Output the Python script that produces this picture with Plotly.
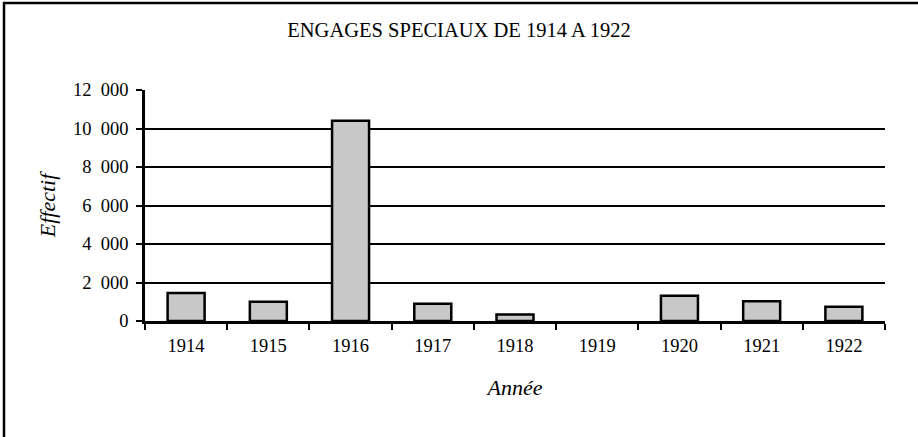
import plotly.graph_objects as go

years = ["1914", "1915", "1916", "1917", "1918", "1919", "1920", "1921", "1922"]
effectif = [1450, 1000, 10400, 900, 340, None, 1310, 1020, 740]
y_ticks = [0, 2000, 4000, 6000, 8000, 10000, 12000]
y_tick_labels = ["0", "2\u2002000", "4\u2002000", "6\u2002000", "8\u2002000", "10\u2002000", "12\u2002000"]

FONT = "Liberation Serif"

L, R, T, B = 145, 33, 90, 116
W, H = 918, 437
pw, ph = W - L - R, H - T - B

fig = go.Figure(go.Bar(
    x=years, y=effectif,
    marker=dict(color="#c8c8c8", line=dict(color="black", width=2.5)),
    width=0.45,
))

fig.update_layout(
    width=W, height=H,
    margin=dict(l=L, r=R, t=T, b=B),
    paper_bgcolor="white", plot_bgcolor="white",
    font=dict(family=FONT, size=18.5, color="black"),
    showlegend=False,
    title=dict(text="ENGAGES SPECIAUX DE 1914 A 1922", x=0.5, xanchor="center",
               y=1 - 30 / H, yanchor="middle", font=dict(family=FONT, size=20.5)),
    xaxis=dict(
        type="category", tickson="boundaries", ticks="outside", ticklen=6,
        tickwidth=2, tickcolor="black", showline=True, linecolor="black",
        linewidth=2.5, showgrid=False, zeroline=False,
        tickfont=dict(family=FONT, size=18.5), ticklabelstandoff=6,
        title=dict(text="<i>Année</i>", font=dict(family=FONT, size=22), standoff=25),
    ),
    yaxis=dict(
        range=[0, 12000], tickvals=y_ticks, ticktext=y_tick_labels,
        ticks="outside", ticklen=6, tickwidth=2, tickcolor="black",
        showline=True, linecolor="black", linewidth=2.5,
        showgrid=True, gridcolor="black", gridwidth=2, zeroline=False,
        tickfont=dict(family=FONT, size=18.5), ticklabelstandoff=4,
        title=dict(text="<i>Effectif</i>", font=dict(family=FONT, size=22), standoff=12),
    ),
)

fig.add_shape(type="rect", xref="paper", yref="paper",
              x0=(4 - L) / pw, x1=(W + 10 - L) / pw,
              y0=-(H + 10 - (T + ph)) / ph, y1=1 + (T - 3) / ph,
              line=dict(color="black", width=2.5), layer="below")

fig.write_html("out.html", config={"displayModeBar": False},
               post_script="document.body.style.margin='0';document.body.style.overflow='hidden';")
